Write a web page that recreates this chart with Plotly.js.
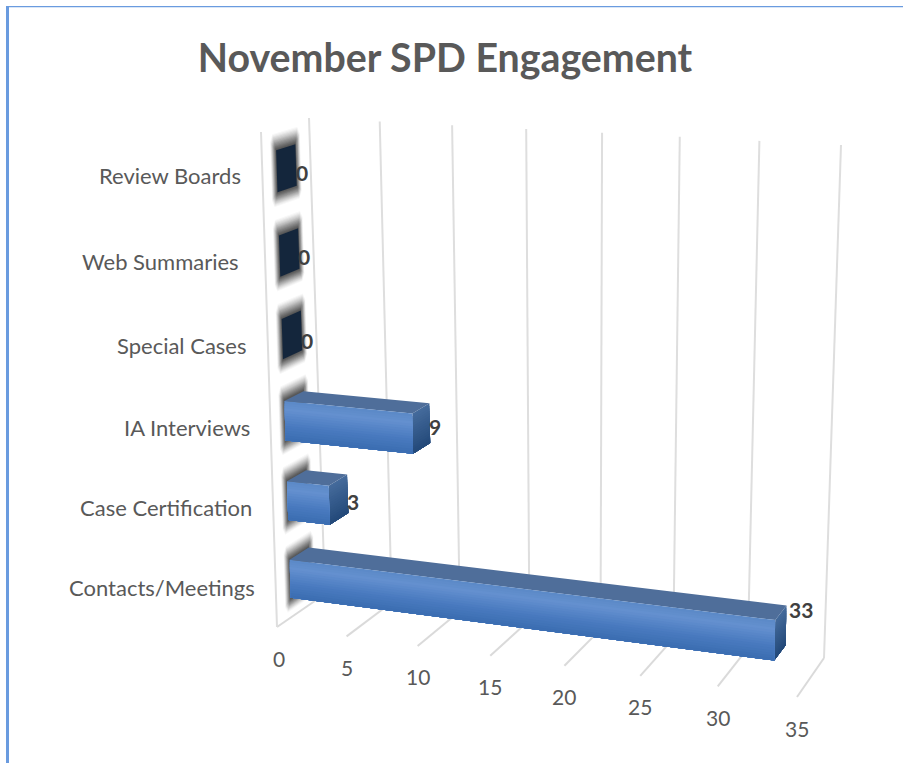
<!DOCTYPE html>
<html><head><meta charset="utf-8">
<script src="https://cdn.plot.ly/plotly-3.0.1.min.js"></script>
<style>html,body{margin:0;padding:0;background:#fff}#c{width:903px;height:763px}</style>
</head><body><div id="c"></div>
<script>
// ---- data ----
const categories = ["Contacts/Meetings","Case Certification","IA Interviews","Special Cases","Web Summaries","Review Boards"];
const values = [33,3,9,0,0,0];
const valueTicks = [0,5,10,15,20,25,30,35];
const titleText = "November SPD Engagement";

// ---- 3D perspective scale: (value, depth, height) -> screen ----
const vMax = 35;
function squareToQuad(q){
  const [x0,y0]=q[0],[x1,y1]=q[1],[x2,y2]=q[2],[x3,y3]=q[3];
  const dx1=x1-x2,dx2=x3-x2,sx=x0-x1+x2-x3,dy1=y1-y2,dy2=y3-y2,sy=y0-y1+y2-y3;
  const den=dx1*dy2-dx2*dy1,g=(sx*dy2-dx2*sy)/den,h=(dx1*sy-sx*dy1)/den;
  const a=x1-x0+g*x1,b=x3-x0+h*x3,d=y1-y0+g*y1,e=y3-y0+h*y3;
  return (u,v)=>{const w=g*u+h*v+1;return [(a*u+b*v+x0)/w,(d*u+e*v+y0)/w];};
}
const backPlane = squareToQuad([[325,594],[824,658],[841,145],[309,118]]);
const frontPlane = squareToQuad([[277,627],[797,697],[814,165],[261,132]]);
function P(v,d,h){
  const b=backPlane(v/vMax,h), f=frontPlane(v/vMax,h);
  return [f[0]+(b[0]-f[0])*d, f[1]+(b[1]-f[1])*d];
}
function joined(polys){
  const x=[],y=[];
  polys.forEach(pl=>{pl.forEach(p=>{x.push(p[0]);y.push(p[1]);});x.push(pl[0][0],null);y.push(pl[0][1],null);});
  return {x,y};
}
const fillTrace=(polys,color)=>Object.assign(joined(polys),{type:'scatter',mode:'lines',fill:'toself',fillcolor:color,line:{width:0,color:color},hoverinfo:'skip',showlegend:false});
const lineTrace=(a,b,w,c)=>({x:[a[0],b[0]],y:[a[1],b[1]],type:'scatter',mode:'lines',line:{width:w,color:c},hoverinfo:'skip',showlegend:false});

const n=categories.length, band=1/n;
const d1=0.3,d2=0.7, barLo=0.25, barHi=0.74;
const traces=[];

// gridlines: back wall, floor, side wall
valueTicks.forEach(v=>{
  traces.push(lineTrace(P(v,1,0),P(v,1,1),2,'#dedede'));
  traces.push(lineTrace(P(v,0,0),P(v,1,0),2,'#dadada'));
});
traces.push(lineTrace(P(0,0,0),P(0,0,1),2,'#dedede'));

// soft shadow on the zero plane: graded, chamfered layers
const shadowSteps=14;
for(let s=shadowSteps;s>=1;s--){
  const e=s/shadowSteps;
  const polys=categories.map((c,i)=>{
    const lo=(i+barLo)*band-e*0.027, hi=(i+barHi)*band+e*0.033;
    const a=d1-e*0.12,b=d2+e*0.10;
    const ch=e*0.014, cd=e*0.05;
    return [P(0,a+cd,lo),P(0,b-cd,lo),P(0,b,lo+ch),P(0,b,hi-ch),P(0,b-cd,hi),P(0,a+cd,hi),P(0,a,hi-ch),P(0,a,lo+ch)];
  });
  traces.push(fillTrace(polys,'rgba(25,25,25,'+(0.03+0.12*(1-e)).toFixed(3)+')'));
}

// bars
function mix(stops,t){
  for(let i=1;i<stops.length;i++){ if(t<=stops[i][0]){
    const a=stops[i-1],b=stops[i],k=(t-a[0])/(b[0]-a[0]);
    return 'rgb('+[1,2,3].map(j=>Math.round(a[j]+(b[j]-a[j])*k)).join(',')+')';
  }}
  const l=stops[stops.length-1]; return 'rgb('+l[1]+','+l[2]+','+l[3]+')';
}
const frontStops=[[0,92,138,200],[0.2,100,144,207],[0.6,73,122,191],[1,57,108,175]];
const sideStops=[[0,68,106,155],[1,34,72,120]];
const strips=16;
const nz=values.map((v,i)=>[v,i]).filter(a=>a[0]>0);
const z=values.map((v,i)=>[v,i]).filter(a=>a[0]===0);
// zero-value bars: only the end face shows
traces.push(fillTrace(z.map(([v,i])=>{
  const lo=(i+barLo)*band,hi=(i+barHi)*band;
  return [P(0,d1,lo),P(0,d2,lo),P(0,d2,hi),P(0,d1,hi)];
}),'#14263c'));
// right faces
for(let k=0;k<strips;k++){
  const t=k/strips;
  traces.push(fillTrace(nz.map(([v,i])=>{
    const lo=(i+barLo)*band,hi=(i+barHi)*band,top=hi-(hi-lo)*t;
    return [P(v,d1,lo),P(v,d2,lo),P(v,d2,top),P(v,d1,top)];
  }),mix(sideStops,t)));
}
// top faces
traces.push(fillTrace(nz.map(([v,i])=>{
  const hi=(i+barHi)*band;
  return [P(0,d1,hi),P(v,d1,hi),P(v,d2,hi),P(0,d2,hi)];
}),'#4f6e9a'));
// front faces
for(let k=0;k<strips;k++){
  const t=k/strips;
  traces.push(fillTrace(nz.map(([v,i])=>{
    const lo=(i+barLo)*band,hi=(i+barHi)*band,top=hi-(hi-lo)*t;
    return [P(0,d1,lo),P(v,d1,lo),P(v,d1,top),P(0,d1,top)];
  }),mix(frontStops,t)));
}

// text
const font='Lato, "Open Sans", sans-serif';
const ann=[];
const catNudge=[[3,0],[3,-1],[3,0],[2,0],[-2,0],[3,0]];
categories.forEach((c,i)=>{
  const p=P(0,0,(i+0.5)*band);
  ann.push({x:p[0]-22+catNudge[i][0],y:p[1]+catNudge[i][1],xref:'x',yref:'y',text:c,showarrow:false,xanchor:'right',yanchor:'middle',font:{family:font,size:22,color:'#595959'}});
});
valueTicks.forEach(v=>{
  const p=P(v,0,0);
  ann.push({x:p[0]+(v===0?2:0),y:p[1]+31,xref:'x',yref:'y',text:String(v),showarrow:false,xanchor:'center',yanchor:'middle',font:{family:font,size:21,color:'#595959'}});
});
const valNudge=[[3,-16],[-1,8],[-1,3],[-1,10],[-1,8],[0,7]];
values.forEach((v,i)=>{
  const p=P(v,d2,(i+(barLo+barHi)/2)*band);
  ann.push({x:p[0]+valNudge[i][0],y:p[1]+valNudge[i][1],xref:'x',yref:'y',text:'<b>'+v+'</b>',showarrow:false,xanchor:'left',xshift:-2,yanchor:'middle',font:{family:font,size:21,color:'#404040'}});
});

const layout={
  width:903,height:763,margin:{l:0,r:0,t:0,b:0},paper_bgcolor:'#fff',plot_bgcolor:'#fff',showlegend:false,
  title:{text:'<b>'+titleText+'</b>',x:445/903,y:1-58/763,xanchor:'center',yanchor:'middle',xref:'container',yref:'container',font:{family:font,size:39.3,color:'#595959'}},
  xaxis:{range:[0,903],visible:false,fixedrange:true},
  yaxis:{range:[763,0],visible:false,fixedrange:true},
  annotations:ann,
  shapes:[
    {type:'rect',xref:'x',yref:'y',x0:6,x1:9,y0:6,y1:763,fillcolor:'#6a9bdf',line:{width:0}},
    {type:'rect',xref:'x',yref:'y',x0:6,x1:903,y0:6,y1:7.3,fillcolor:'#6a9bdf',line:{width:0}}
  ]
};
Plotly.newPlot('c',traces,layout,{displayModeBar:false,staticPlot:true});
</script></body></html>
